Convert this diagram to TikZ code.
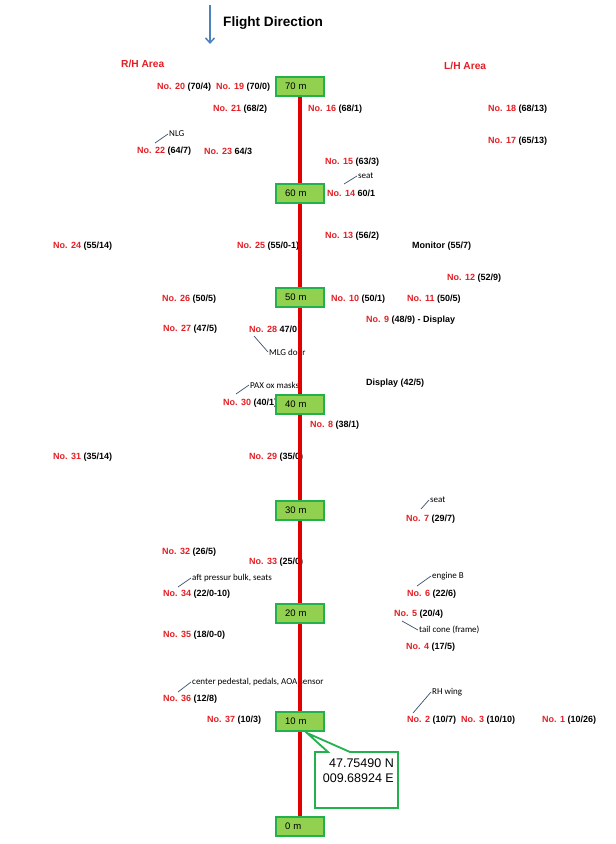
\documentclass[tikz,border=0pt]{standalone}
\usepackage{fontspec}
\setmainfont{Liberation Sans}
\newfontfamily\notefont{Carlito}
\usetikzlibrary{arrows.meta}
\definecolor{nored}{RGB}{228,30,36}
\definecolor{boxfill}{RGB}{146,208,80}
\definecolor{boxline}{RGB}{34,177,76}
\definecolor{axisred}{RGB}{226,0,0}
\definecolor{leadline}{RGB}{60,80,110}
\definecolor{flightblue}{RGB}{79,129,189}
\newcommand{\rno}[1]{\textcolor{nored}{No. #1}}

\begin{document}
\begin{tikzpicture}[x=1pt,y=-1pt,
    lbl/.style={anchor=west,inner sep=0pt,font=\fontsize{9}{10}\selectfont\bfseries},
    note/.style={anchor=west,inner sep=1pt,font=\notefont\fontsize{9}{10}\selectfont},
    lead/.style={draw=leadline,line width=0.7pt},
    mbox/.style={draw=boxline,fill=boxfill,line width=2pt,minimum height=19pt,
      text width=30pt,inner xsep=9pt,inner ysep=0pt,align=left,
      font=\fontsize{9.5}{10}\selectfont},
    axis/.style={axisred,line width=4pt}]
            \path[use as bounding box,fill=white] (0,0) rectangle (616,844);
            % flight direction
            \coordinate (fdtop) at (210,5);
            \coordinate (fdbot) at (210,44);
            \draw[flightblue,line width=1.5pt,-{Straight Barb[length=5pt,width=9pt]}] (fdtop) -- (fdbot);
            \node[anchor=west,inner sep=0pt,font=\fontsize{13.6}{15}\selectfont\bfseries] (fd) at (223,23) {Flight Direction};
            \node[lbl,text=nored,font=\fontsize{10.2}{11}\selectfont\bfseries] (rh) at (121,64) {R/H Area};
            \node[lbl,text=nored,font=\fontsize{10.2}{11}\selectfont\bfseries] (lh) at (444,66) {L/H Area};
            % points, R/H side
            \node[lbl] (n20) at (157,87) {\rno{20} (70/4)};
            \node[lbl] (n19) at (216,87) {\rno{19} (70/0)};
            \node[lbl] (n21) at (213,109) {\rno{21} (68/2)};
            \node[lbl] (n22) at (137,151) {\rno{22} (64/7)};
            \node[lbl] (n23) at (204,151) {\rno{23} 64/3};
            \node[lbl] (n24) at (53,246) {\rno{24} (55/14)};
            \node[lbl] (n25) at (237,246) {\rno{25} (55/0-1)};
            \node[lbl] (n26) at (162,299) {\rno{26} (50/5)};
            \node[lbl] (n27) at (163,329) {\rno{27} (47/5)};
            \node[lbl] (n28) at (249,329) {\rno{28} 47/0};
            \node[lbl] (n30) at (223,403) {\rno{30} (40/1)};
            \node[lbl] (n31) at (53,457) {\rno{31} (35/14)};
            \node[lbl] (n29) at (249,457) {\rno{29} (35/0)};
            \node[lbl] (n32) at (162,552) {\rno{32} (26/5)};
            \node[lbl] (n33) at (249,562) {\rno{33} (25/0)};
            \node[lbl] (n34) at (163,594) {\rno{34} (22/0-10)};
            \node[lbl] (n35) at (163,635) {\rno{35} (18/0-0)};
            \node[lbl] (n36) at (163,699) {\rno{36} (12/8)};
            \node[lbl] (n37) at (207,720) {\rno{37} (10/3)};
            % points, L/H side
            \node[lbl] (n16) at (308,109) {\rno{16} (68/1)};
            \node[lbl] (n18) at (488,109) {\rno{18} (68/13)};
            \node[lbl] (n17) at (488,141) {\rno{17} (65/13)};
            \node[lbl] (n15) at (325,162) {\rno{15} (63/3)};
            \node[lbl] (n14) at (327,193) {\rno{14} 60/1};
            \node[lbl] (n13) at (325,236) {\rno{13} (56/2)};
            \node[lbl] (mon) at (412,246) {Monitor (55/7)};
            \node[lbl] (n12) at (447,278) {\rno{12} (52/9)};
            \node[lbl] (n10) at (331,299) {\rno{10} (50/1)};
            \node[lbl] (n11) at (407,299) {\rno{11} (50/5)};
            \node[lbl] (n9) at (366,320) {\rno{9} (48/9) - Display};
            \node[lbl] (disp) at (366,383) {Display (42/5)};
            \node[lbl] (n8) at (310,425) {\rno{8} (38/1)};
            \node[lbl] (n7) at (406,519) {\rno{7} (29/7)};
            \node[lbl] (n6) at (407,594) {\rno{6} (22/6)};
            \node[lbl] (n5) at (394,614) {\rno{5} (20/4)};
            \node[lbl] (n4) at (406,647) {\rno{4} (17/5)};
            \node[lbl] (n2) at (407,720) {\rno{2} (10/7)};
            \node[lbl] (n3) at (461,720) {\rno{3} (10/10)};
            \node[lbl] (n1) at (542,720) {\rno{1} (10/26)};
            % notes
            \node[note] (nlg) at (168,134) {NLG};
            \node[note] (seata) at (357,176) {seat};
            \node[note] (mlg) at (268,352) {MLG door};
            \node[note] (pax) at (249,385) {PAX ox masks};
            \node[note] (seatb) at (429,500) {seat};
            \node[note] (aft) at (191,578) {aft pressur bulk, seats};
            \node[note] (engb) at (431,576) {engine B};
            \node[note] (tail) at (418,630) {tail cone (frame)};
            \node[note] (ctr) at (191,682) {center pedestal, pedals, AOA sensor};
            \node[note] (rhw) at (431,692) {RH wing};
            \coordinate (cnlg) at (155,143);
            \coordinate (cseata) at (344,184);
            \coordinate (cmlg) at (254,336);
            \coordinate (cpax) at (236,394);
            \coordinate (cseatb) at (421,509);
            \coordinate (caft) at (178,587);
            \coordinate (cengb) at (417,586);
            \coordinate (ctail) at (402,621);
            \coordinate (cctr) at (178,692);
            \coordinate (crhw) at (413,713);
            \draw[lead] (cnlg) -- (nlg.west);
            \draw[lead] (cseata) -- (seata.west);
            \draw[lead] (cmlg) -- (mlg.west);
            \draw[lead] (cpax) -- (pax.west);
            \draw[lead] (cseatb) -- (seatb.west);
            \draw[lead] (caft) -- (aft.west);
            \draw[lead] (cengb) -- (engb.west);
            \draw[lead] (ctail) -- (tail.west);
            \draw[lead] (cctr) -- (ctr.west);
            \draw[lead] (crhw) -- (rhw.west);
            % distance marks
            \node[mbox] (m70) at (300,86.5) {70 m};
            \node[mbox] (m60) at (300,193.5) {60 m};
            \node[mbox] (m50) at (300,297) {50 m};
            \node[mbox] (m40) at (300,404) {40 m};
            \node[mbox] (m30) at (300,510.5) {30 m};
            \node[mbox] (m20) at (300,613.5) {20 m};
            \node[mbox] (m10) at (300,721) {10 m};
            \node[mbox] (m0) at (300,826) {0 m};
            \draw[axis] (m70.south) -- (m60.north) (m60.south) -- (m50.north)
                        (m50.south) -- (m40.north) (m40.south) -- (m30.north)
                        (m30.south) -- (m20.north) (m20.south) -- (m10.north)
                        (m10.south) -- (m0.north);
            % position callout
            \coordinate (tip) at (307,733);
            \draw[boxline,line width=1.8pt,fill=white,line join=miter]
                (315,752) -- (328,752) -- (tip) -- (350,752) -- (398,752)
                -- (398,808) -- (315,808) -- cycle;
            \node[anchor=east,align=right,inner sep=0pt,font=\fontsize{12.5}{15}\selectfont] (gps) at (394,771) {47.75490 N\\009.68924 E};
    \end{tikzpicture}
\end{document}
